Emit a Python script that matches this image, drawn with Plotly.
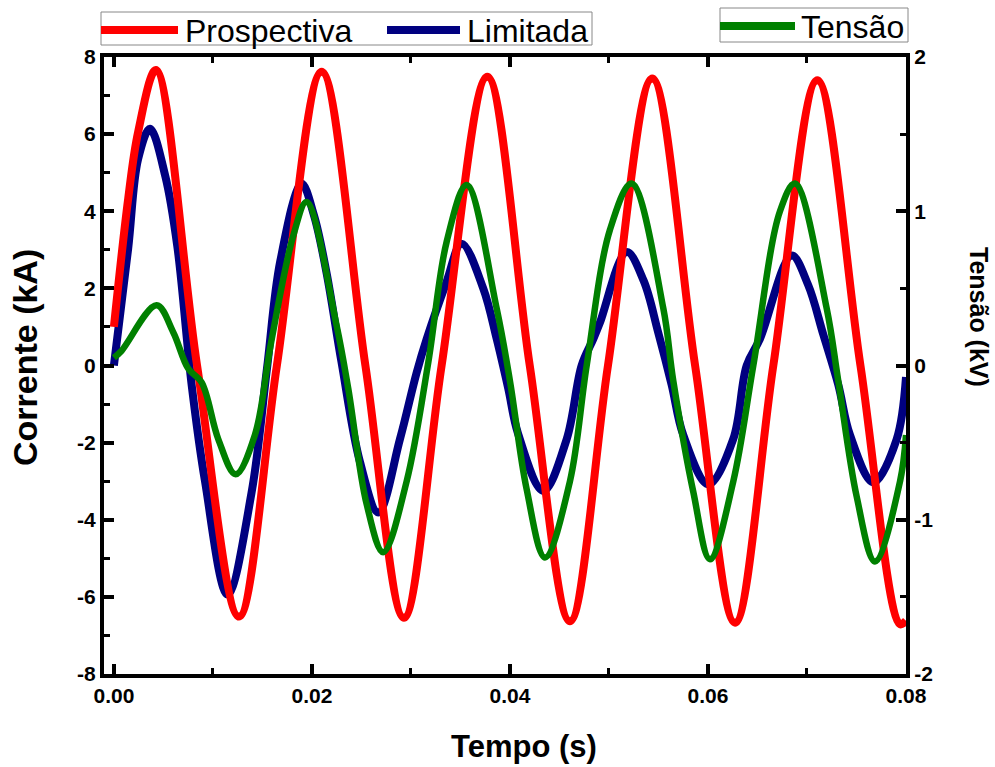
import plotly.graph_objects as go

# Prospective current (kA)
t_prosp = [0.0, 0.00144, 0.00245, 0.00424, 0.0084, 0.01263, 0.01646, 0.02098, 0.0254, 0.02929,
           0.0331, 0.03771, 0.0420, 0.04606, 0.0499, 0.05437, 0.0587, 0.06273, 0.0666, 0.07104,
           0.0754, 0.07939, 0.0800]
i_prosp = [1.0, 4.32, 6.06, 7.66, 0.0, -6.51, 0.0, 7.62, 0.0, -6.54,
           0.0, 7.49, 0.0, -6.63, 0.0, 7.44, 0.0, -6.67, 0.0, 7.40,
           0.0, -6.71, -6.62]

# Limited current (kA)
t_lim = [0.0, 0.00144, 0.00245, 0.00364, 0.0052, 0.0064, 0.00785, 0.0092, 0.01148,
         0.0139, 0.01545, 0.0168, 0.01896, 0.0202, 0.02148, 0.02298, 0.02485, 0.0267,
         0.02889, 0.03058, 0.03159, 0.0336, 0.03512, 0.0373, 0.03866, 0.03983, 0.0408, 0.04336,
         0.04573, 0.04724, 0.04842, 0.0491, 0.05179, 0.0535, 0.05498, 0.05633, 0.0575, 0.06003,
         0.06255, 0.06391, 0.06525, 0.06845, 0.0701, 0.07165, 0.07316, 0.07434, 0.0767,
         0.07906, 0.0800]
i_lim = [0.0, 3.03, 5.36, 6.14, 4.9, 3.1, -0.5, -3.0, -5.94,
         -3.3, -0.1, 2.7, 4.71, 3.9, 2.4, 0.1, -2.5, -3.81,
         -1.91, -0.18, 0.69, 2.17, 3.16, 2.0, 0.69, -0.6, -1.75, -3.25,
         -1.91, 0.0, 0.69, 1.12, 2.94, 2.2, 0.85, -0.5, -1.8, -3.08,
         -1.91, 0.0, 0.69, 2.85, 2.1, 0.8, -0.5, -1.8, -3.03,
         -1.91, -0.3]

# Voltage (kV)
t_tens = [0.0, 0.00078, 0.00431, 0.00599, 0.0075, 0.00886, 0.01054, 0.01229, 0.01424, 0.01588,
          0.01811, 0.01946, 0.02249, 0.02367, 0.02553, 0.0272, 0.02957, 0.03175, 0.0336,
          0.03563, 0.03866, 0.0400, 0.04168, 0.04354, 0.04606, 0.04775, 0.0501, 0.05229, 0.05549,
          0.0565, 0.05852, 0.0602, 0.06256, 0.06458, 0.06727, 0.06879, 0.07199, 0.07316, 0.07502,
          0.07687, 0.0794, 0.0800]
v_tens = [0.05, 0.096, 0.39, 0.216, -0.02, -0.11, -0.477, -0.705, -0.45, 0.15,
          0.84, 1.06, 0.26, -0.15, -0.9, -1.21, -0.75, 0.02, 0.8,
          1.17, 0.37, -0.1, -0.8, -1.245, -0.75, 0.0, 0.88, 1.18, 0.37,
          -0.1, -0.82, -1.256, -0.75, 0.0, 1.0, 1.18, 0.37, -0.1, -0.85,
          -1.27, -0.75, -0.45]

x_ticks = [0.0, 0.02, 0.04, 0.06, 0.08]
x_labels = ["0.00", "0.02", "0.04", "0.06", "0.08"]
y_ticks = [-8, -6, -4, -2, 0, 2, 4, 6, 8]
y_labels = ["-8", "-6", "-4", "-2", "0", "2", "4", "6", "8"]
y2_ticks = [-2, -1, 0, 1, 2]
y2_labels = ["-2", "-1", "0", "1", "2"]

RED, NAVY, GREEN = "#FF0000", "#000080", "#008000"
SANS = "Liberation Sans, Arial, sans-serif"

W, H = 995, 767
L, R, T, B = 104, 906, 57, 674


def fx(px):
    return (px - L) / (R - L)


def fy(py):
    return (B - py) / (B - T)


fig = go.Figure()
fig.add_trace(go.Scatter(x=t_tens, y=v_tens, yaxis="y2", mode="lines", name="Tensão",
                         line=dict(color=GREEN, width=6.5, shape="spline", smoothing=1.0)))
fig.add_trace(go.Scatter(x=t_lim, y=i_lim, mode="lines", name="Limitada",
                         line=dict(color=NAVY, width=8, shape="spline", smoothing=1.0)))
fig.add_trace(go.Scatter(x=t_prosp, y=i_prosp, mode="lines", name="Prospectiva",
                         line=dict(color=RED, width=8, shape="spline", smoothing=1.0)))

tickfont = dict(family=SANS, size=21, color="black", weight="bold")
common = dict(ticks="inside", ticklen=10, tickwidth=3.5, tickcolor="black",
              showline=True, linewidth=4, linecolor="black", showgrid=False,
              zeroline=False, tickfont=tickfont)

fig.update_layout(
    width=W, height=H,
    margin=dict(l=L, r=W - R, t=T, b=H - B, pad=0),
    paper_bgcolor="white", plot_bgcolor="white",
    showlegend=False,
    xaxis=dict(range=[-0.001, 0.08], tickvals=x_ticks, ticktext=x_labels, mirror="ticks",
               minor=dict(dtick=0.01, tick0=0, ticks="inside", ticklen=6, tickwidth=3,
                          tickcolor="black"),
               **common),
    yaxis=dict(range=[-8, 8], tickvals=y_ticks, ticktext=y_labels, mirror=True,
               minor=dict(dtick=1, tick0=0, ticks="inside", ticklen=6, tickwidth=3,
                          tickcolor="black"),
               **common),
    yaxis2=dict(range=[-2, 2], tickvals=y2_ticks, ticktext=y2_labels, overlaying="y",
                side="right",
                minor=dict(dtick=0.5, tick0=0, ticks="inside", ticklen=6, tickwidth=3,
                           tickcolor="black"),
                **common),
)

# Axis titles
fig.add_annotation(text="Tempo (s)", x=fx(524), y=fy(746), xref="paper", yref="paper",
                   showarrow=False, xanchor="center", yanchor="middle",
                   font=dict(family=SANS, size=31, color="black", weight="bold"))
fig.add_annotation(text="Corrente (kA)", x=fx(25), y=fy(358), xref="paper", yref="paper",
                   showarrow=False, textangle=-90, xanchor="center", yanchor="middle",
                   font=dict(family=SANS, size=34, color="black", weight="bold"))
fig.add_annotation(text="Tensão (kV)", x=fx(979), y=fy(317), xref="paper", yref="paper",
                   showarrow=False, textangle=90, xanchor="center", yanchor="middle",
                   font=dict(family=SANS, size=25, color="black", weight="bold"))

# Legend boxes drawn as shapes with text labels
legend_font = dict(family=SANS, size=32, color="black")
boxes = [(101, 12, 592, 45), (720, 8, 908, 42)]
for x0, y0, x1, y1 in boxes:
    fig.add_shape(type="rect", xref="paper", yref="paper",
                  x0=fx(x0), x1=fx(x1), y0=fy(y1), y1=fy(y0),
                  line=dict(color="#888888", width=1), fillcolor="white")

entries = [(101, 178, 30, RED, "Prospectiva", 183),
           (387, 460, 30, NAVY, "Limitada", 465),
           (720, 795, 26, GREEN, "Tensão", 799)]
for x0, x1, yy, col, label, tx in entries:
    fig.add_shape(type="line", xref="paper", yref="paper",
                  x0=fx(x0), x1=fx(x1), y0=fy(yy), y1=fy(yy),
                  line=dict(color=col, width=8))
    fig.add_annotation(text=label, x=fx(tx), y=fy(yy + 1), xref="paper", yref="paper",
                       showarrow=False, font=legend_font, xanchor="left", yanchor="middle")

fig.write_html("out.html")
